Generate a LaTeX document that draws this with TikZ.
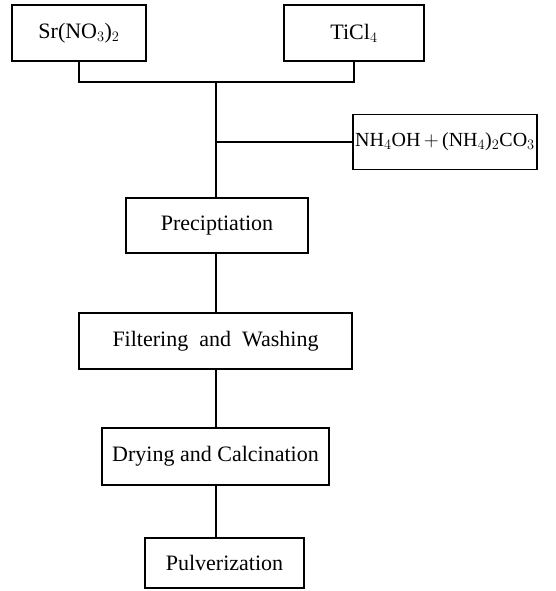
\documentclass[tikz,border=0pt]{standalone}
\usepackage{fontspec}
\setmainfont{Liberation Serif}
\begin{document}
\begin{tikzpicture}[x=1pt,y=-1pt,
  box/.style={draw,line width=1.3pt,inner sep=0pt,font=\fontsize{22}{26}\selectfont},
  conn/.style={line width=1.3pt}]
\useasboundingbox (0,0) rectangle (555,591);
\node[box,minimum width=134pt,minimum height=56pt] (sr) at (79,33) {Sr(NO$_3$)$_2$};
\node[box,minimum width=140pt,minimum height=56pt] (ti) at (354,33) {TiCl$_4$};
\node[box,minimum width=184pt,minimum height=55pt,font=\fontsize{20}{24}\selectfont] (nh) at (445,142) {NH$_4$OH\,$+$\,(NH$_4$)$_2$CO$_3$};
\node[box,minimum width=182pt,minimum height=55pt] (pr) at (217,225.5) {Preciptiation};
\node[box,minimum width=273pt,minimum height=56pt] (fw) at (215.5,341) {Filtering\ \ and\ \ Washing};
\node[box,minimum width=227pt,minimum height=57pt] (dc) at (215.5,456.5) {Drying and Calcination};
\node[box,minimum width=159pt,minimum height=50pt] (pu) at (224.5,563) {Pulverization};
\coordinate (j1) at (216,82);
\coordinate (j2) at (216,142);
\draw[conn] (sr.south) |- (j1) -| (ti.south);
\draw[conn] (j1) -- (j1 |- pr.north);
\draw[conn] (j2) -- (nh.west);
\draw[conn] (j1 |- pr.south) -- (j1 |- fw.north);
\draw[conn] (j1 |- fw.south) -- (j1 |- dc.north);
\draw[conn] (j1 |- dc.south) -- (j1 |- pu.north);
\end{tikzpicture}
\end{document}
